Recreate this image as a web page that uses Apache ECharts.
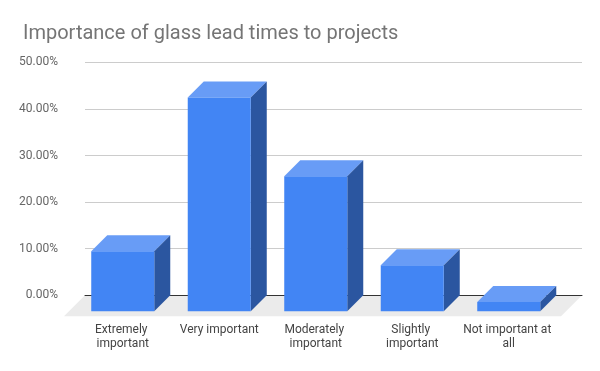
<!DOCTYPE html>
<html><head><meta charset="utf-8">
<script src="https://cdn.jsdelivr.net/npm/echarts@6/dist/echarts.min.js"></script>
<style>html,body{margin:0;padding:0;background:#fff}#c{width:600px;height:371px}</style>
</head><body><div id="c"></div>
<script>
const title = 'Importance of glass lead times to projects';
const categories = ['Extremely important', 'Very important', 'Moderately important', 'Slightly important', 'Not important at all'];
const values = [12.9, 45.9, 29.0, 9.9, 2.0];
const yTicks = [0, 10, 20, 30, 40, 50];

const DEPTH = 16;
const FLOOR = 21;
const chart = echarts.init(document.getElementById('c'));

function renderBar(params, api) {
  const cat = api.value(0), v = api.value(1);
  const base = api.coord([cat, 0]);
  const top = api.coord([cat, v]);
  const band = api.size([1, 0])[0];
  const w = band * 0.653;
  const l = base[0] - w / 2, r = base[0] + w / 2, b = base[1], t = top[1];
  const d = DEPTH;
  return {
    type: 'group',
    children: [
      { type: 'polygon', shape: { points: [[l, t], [r, t], [r + d, t - d], [l + d, t - d]] }, style: { fill: '#689cf6' } },
      { type: 'polygon', shape: { points: [[r, t], [r + d, t - d], [r + d, b - d], [r, b]] }, style: { fill: '#2b56a0' } },
      { type: 'rect', shape: { x: l, y: t, width: w, height: b - t }, style: { fill: '#4285f4' } }
    ]
  };
}

function renderFloor(params, api) {
  const cs = params.coordSys;
  const y = cs.y + cs.height;
  const x1 = cs.x, x2 = cs.x + cs.width;
  return {
    type: 'polygon',
    shape: { points: [[x1, y], [x2, y], [x2 - FLOOR, y + FLOOR], [x1 - FLOOR, y + FLOOR]] },
    style: { fill: '#ebebeb' }
  };
}

chart.setOption({
  animation: false,
  backgroundColor: '#fff',
  textStyle: { fontFamily: 'Roboto' },
  title: {
    text: title, left: 18, top: 19,
    textStyle: { fontFamily: 'Roboto', fontSize: 20, fontWeight: 'normal', color: '#757575' }
  },
  grid: [
    { left: 85, right: 18, top: 62.3, bottom: 75.7 },
    { left: 74.5, right: 43, top: 62.3 + DEPTH, bottom: 75.7 - DEPTH }
  ],
  xAxis: [
    { gridIndex: 0, type: 'category', data: categories, z: 1.5,
      axisLine: { lineStyle: { color: '#333', width: 1 } }, axisTick: { show: false }, axisLabel: { show: false } },
    { gridIndex: 1, type: 'category', data: categories,
      axisLine: { show: false }, axisTick: { show: false },
      axisLabel: { interval: 0, margin: 12, fontSize: 12, lineHeight: 14, color: '#444', fontFamily: 'Roboto',
        width: 91, overflow: 'break' } }
  ],
  yAxis: [
    { gridIndex: 0, type: 'value', min: 0, max: 50, interval: 10,
      axisLine: { show: false }, axisTick: { show: false },
      splitLine: { lineStyle: { color: '#cccccc', width: 1 } },
      axisLabel: { margin: 27, fontSize: 12, color: '#666', fontFamily: 'Roboto',
        formatter: v => v.toFixed(2) + '%' } },
    { gridIndex: 1, type: 'value', min: 0, max: 50, interval: 10, show: false }
  ],
  series: [
    { type: 'custom', xAxisIndex: 0, yAxisIndex: 0, z: 1, renderItem: renderFloor, data: [[0, 0]], silent: true },
    { type: 'custom', xAxisIndex: 1, yAxisIndex: 1, z: 2, renderItem: renderBar,
      data: values.map((v, i) => [i, v]), encode: { x: 0, y: 1 } }
  ]
});
</script></body></html>
